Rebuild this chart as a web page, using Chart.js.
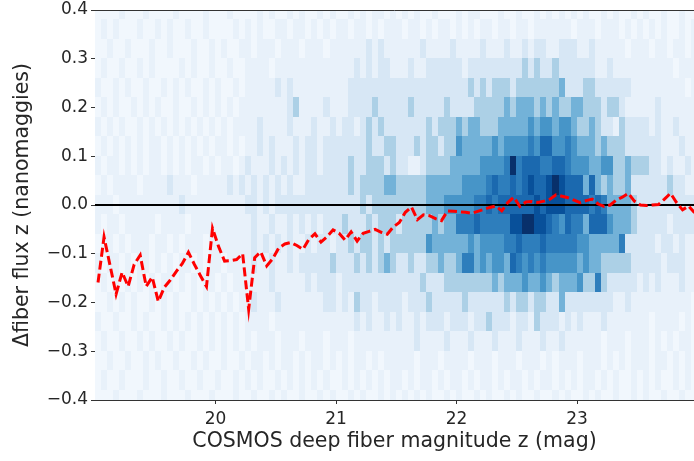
<!DOCTYPE html>
<html>
<head>
<meta charset="utf-8">
<script src="https://cdn.jsdelivr.net/npm/chart.js@4.4.0/dist/chart.umd.min.js"></script>
<style>
  html, body { margin: 0; padding: 0; background: #fff; }
</style>
</head>
<body>
<canvas id="myChart" width="694" height="461"></canvas>
<script>
// magnitude bins of the 2d histogram
var magStart = 19.0;
var magWidth = 0.05;

// flux bin centres, top row first
var fluxCenters = [0.40, 0.36, 0.32, 0.28, 0.24, 0.20, 0.16, 0.12, 0.08, 0.04, 0.00,
  -0.04, -0.08, -0.12, -0.16, -0.20, -0.24, -0.28, -0.32, -0.36, -0.40];
var fluxWidth = 0.04;

// shade level (0-9) per cell: one string per flux row, one digit per magnitude bin
var density = [
  '0000100010000100001000100 0010100101001010010101101 0101001000101100010010010 1010101001010010100100100',
  '0101000100101001001000010 1010011011010101101101011 1011010110101011011011011 1111011101110101010100101',
  '0010010001001000100101001 1011101110111011111121211 1111211112111121112112122 1122211211111011101101101',
  '0100100101000010100100100 1111011111111111112121221 1121122222212222222223232 2322222211211111111110111',
  '1001010010010101001010010 1111121211111111122222222 2222222222223232333233333 3342223322222211111111101',
  '0101001010100100101010101 1111111231111211122223222 2232222232222333334344434 3433443332332111112111111',
  '1010100101010101010101011 1121111211121121221232322 2222232333434433344444545 5455433432213222212112111',
  '0101010101101010101011010 1121211121221222222232233 2223233233544444545555657 7556544434333222222111211',
  '1011010101101010110101101 2111212121221222232233323 2211233334444455556967776 6776555445533433322121121',
  '0101111011112111011111212 1212121211222222232333344 3333344444455556766767877 8987774743433422222232211',
  '1110111111111121111111111 2212122222222222222323333 3333344455555667677777787 8887777676444432222222222',
  '1011011111011110111111111 1211211212121222322232333 2333334344666766666889988 7657664777544432222212222',
  '0110101110110101110111111 1212121211212212232332323 3333354444445455556676667 6666655444446222221221211',
  '1011010110101011010110111 1211211212222232223232343 2232233433466454554765656 5555545443333322222122211',
  '0101010101011010101101011 1111211111212221222222222 2222322233333333434445445 4344453363222221212111211',
  '0010101001010100101010101 1211121111111221213221222 2122232222232222223233233 2242222222211211111111110',
  '1001001010010101010101010 1111011111111111112121121 2112122212221223222122132 2212121112111111101111010',
  '0100100101001010010101010 1011101110111011101111111 1112111121112111211121112 1121111110111011101010110',
  '0010010010100100101001001 0110101101011010101101011 1110111011110111011101110 1011101110101011101101010',
  '0100100010010010010010010 1010010101010100101010101 1010110101101011010110101 1010101101010010101001010',
  '0001000100010001000100010 0100101001001010010100101 0101010010100101001010010 0101001010010010100100100'
];

// running median of the flux offset in each magnitude bin
var medianOffset = [
  -0.159, -0.066, -0.124, -0.183, -0.138, -0.167, -0.122, -0.103, -0.167, -0.148,
  -0.198, -0.169, -0.154, -0.136, -0.120, -0.097, -0.122, -0.145, -0.167, -0.048,
  -0.085, -0.115, -0.114, -0.112, -0.100, -0.214, -0.108, -0.096, -0.125, -0.110,
  -0.088, -0.080, -0.077, -0.083, -0.091, -0.070, -0.059, -0.076, -0.065, -0.051,
  -0.058, -0.072, -0.055, -0.074, -0.058, -0.054, -0.050, -0.056, -0.060, -0.045,
  -0.036, -0.015, -0.004, -0.030, -0.020, -0.022, -0.028, -0.032, -0.012, -0.013,
  -0.014, -0.015, -0.017, -0.013, -0.009, -0.005, -0.002, -0.012, 0.005, 0.016,
  -0.003, 0.006, 0.007, 0.005, 0.008, 0.012, 0.021, 0.018, 0.015, 0.010,
  0.005, 0.009, 0.012, 0.002, -0.003, 0.000, 0.010, 0.016, 0.024, 0.008,
  0.000, -0.001, 0.000, 0.001, 0.012, 0.024, 0.005, -0.010, -0.002, -0.016
];

var xTicks = [20, 21, 22, 23];
var yTicks = [-0.4, -0.3, -0.2, -0.1, 0.0, 0.1, 0.2, 0.3, 0.4];

// matplotlib "Blues"
var bluesStops = [[247, 251, 255], [222, 235, 247], [198, 219, 239], [158, 202, 225], [107, 174, 214],
  [66, 146, 198], [33, 113, 181], [8, 81, 156], [8, 48, 107]];
var shadeFrac = [0.03, 0.075, 0.16, 0.33, 0.48, 0.61, 0.7, 0.78, 0.88, 1.0];

function blues(t) {
  var p = t * (bluesStops.length - 1);
  var i = Math.min(Math.floor(p), bluesStops.length - 2);
  var f = p - i;
  var a = bluesStops[i], b = bluesStops[i + 1];
  return 'rgb(' + [0, 1, 2].map(function (c) { return Math.round(a[c] + (b[c] - a[c]) * f); }).join(',') + ')';
}

var medianPoints = medianOffset.map(function (v, k) {
  return { x: magStart + (k + 0.5) * magWidth, y: v };
});

var heatmap = {
  id: 'heatmap',
  beforeDatasetsDraw: function (chart) {
    var ctx = chart.ctx, xs = chart.scales.x, ys = chart.scales.y, a = chart.chartArea;
    ctx.save();
    ctx.beginPath();
    ctx.rect(a.left, a.top, a.right - a.left, a.bottom - a.top);
    ctx.clip();
    density.forEach(function (row, r) {
      var cells = row.replace(/ /g, '');
      var y0 = Math.floor(ys.getPixelForValue(fluxCenters[r] + fluxWidth / 2));
      var y1 = Math.ceil(ys.getPixelForValue(fluxCenters[r] - fluxWidth / 2));
      for (var k = 0; k < cells.length; k++) {
        var x0 = Math.floor(xs.getPixelForValue(magStart + k * magWidth));
        var x1 = Math.ceil(xs.getPixelForValue(magStart + (k + 1) * magWidth));
        ctx.fillStyle = blues(shadeFrac[+cells[k]]);
        ctx.fillRect(x0, y0, x1 - x0, y1 - y0);
      }
    });
    ctx.restore();
  },
  afterDraw: function (chart) {
    var ctx = chart.ctx, a = chart.chartArea;
    ctx.save();
    ctx.strokeStyle = '#333';
    ctx.lineWidth = 1;
    ctx.beginPath();
    ctx.moveTo(a.left, a.top + 0.5);
    ctx.lineTo(a.right, a.top + 0.5);
    ctx.stroke();
    ctx.restore();
  }
};

Chart.defaults.font.family = 'DejaVu Sans';
Chart.defaults.color = '#262626';

var ctx = document.getElementById('myChart').getContext('2d');
var myChart = new Chart(ctx, {
  type: 'line',
  data: {
    datasets: [
      {
        label: 'median',
        data: medianPoints,
        borderColor: '#ff0000',
        borderWidth: 3,
        borderDash: [9, 4],
        pointRadius: 0,
        tension: 0,
        order: 0
      },
      {
        label: 'zero',
        data: [{ x: 19, y: 0 }, { x: 24, y: 0 }],
        borderColor: '#000',
        borderWidth: 2,
        pointRadius: 0,
        order: 1
      }
    ]
  },
  options: {
    responsive: false,
    animation: false,
    layout: { padding: { top: 10, left: 0, right: 0, bottom: 0 } },
    plugins: { legend: { display: false }, tooltip: { enabled: false } },
    scales: {
      x: {
        type: 'linear',
        min: 19.0,
        max: 23.97,
        afterBuildTicks: function (s) { s.ticks = xTicks.map(function (v) { return { value: v }; }); },
        afterFit: function (s) { s.height = 61; s.paddingLeft = 0; s.paddingRight = 0; },
        ticks: {
          font: { size: 17 },
          padding: 5,
          maxRotation: 0,
          autoSkip: false,
          callback: function (v) { return String(v); }
        },
        grid: { drawOnChartArea: false, tickLength: 4, tickColor: '#333' },
        border: { color: '#333', width: 1 },
        title: {
          display: true,
          text: 'COSMOS deep fiber magnitude z (mag)',
          font: { size: 20.5 },
          padding: { top: 0, bottom: 7 }
        }
      },
      y: {
        type: 'linear',
        min: -0.4,
        max: 0.4,
        afterBuildTicks: function (s) { s.ticks = yTicks.map(function (v) { return { value: v }; }); },
        afterFit: function (s) { s.width = 95; s.paddingTop = 0; s.paddingBottom = 0; },
        ticks: {
          font: { size: 17 },
          padding: 3,
          autoSkip: false,
          callback: function (v) { return (v < -1e-9 ? '\u2212' : '') + Math.abs(v).toFixed(1); }
        },
        grid: { drawOnChartArea: false, tickLength: 4, tickColor: '#333' },
        border: { color: '#333', width: 1 },
        title: {
          display: true,
          text: '\u0394fiber flux z (nanomaggies)',
          font: { size: 20.5 },
          padding: { top: 10, bottom: 0 }
        }
      }
    }
  },
  plugins: [heatmap]
});
</script>
</body>
</html>
